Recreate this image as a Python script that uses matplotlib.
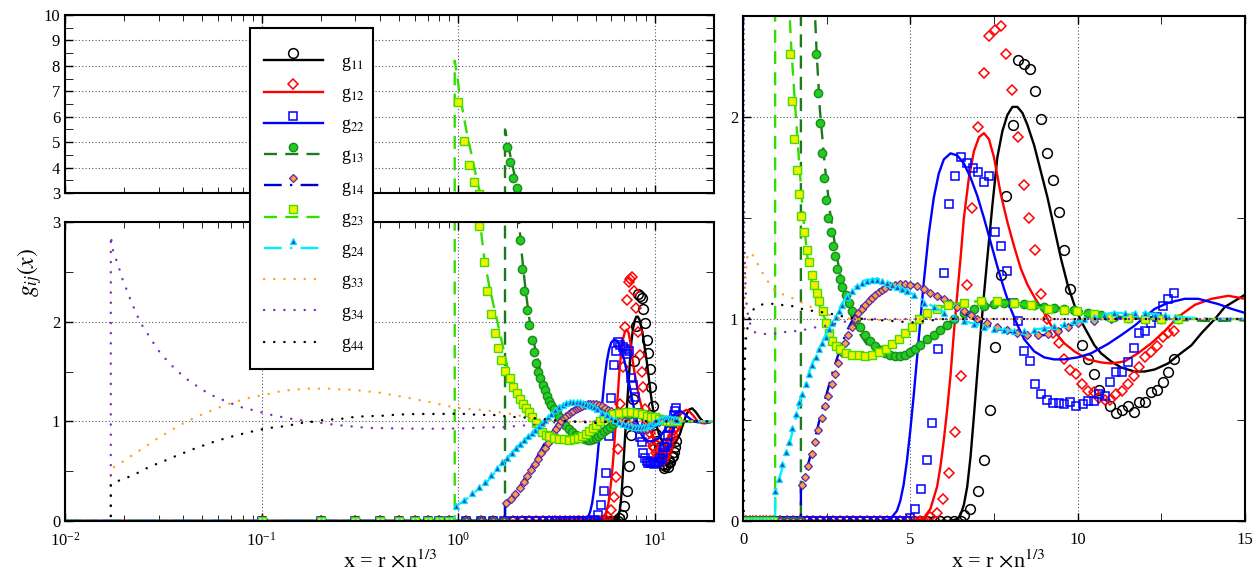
import matplotlib
matplotlib.use("Agg")
import matplotlib.pyplot as plt
from matplotlib.lines import Line2D
from matplotlib.patches import Rectangle
from matplotlib.legend_handler import HandlerBase
from matplotlib.ticker import MultipleLocator, LogLocator, NullFormatter

# ---- pair correlation data ------------------------------------------------
# positions where the simulated g(x) sits on zero before contact
x_zero_row = [0.1, 0.2, 0.3, 0.4, 0.5, 0.6, 0.7, 0.8, 0.9, 1.1, 1.3, 1.5, 1.7,
              1.9, 2.1, 2.3, 2.5, 2.7, 2.9, 3.1, 3.3, 3.5, 3.7, 3.9, 4.1, 4.3,
              4.5, 4.7, 4.9, 5.1, 5.3, 5.5, 5.7, 5.9, 6.1, 6.3, 6.5]

g11_theory_x = [0.01, 6.2, 6.4, 6.5, 6.6, 6.7, 6.8, 6.9, 7.0, 7.1, 7.2, 7.3, 7.45, 7.6,
                7.75, 7.9, 8.05, 8.2, 8.35, 8.5, 8.7, 8.9, 9.1, 9.3, 9.5, 9.7, 9.9,
                10.1, 10.3, 10.5, 10.7, 11.0, 11.3, 11.7, 12.0, 12.3, 12.7, 13.0,
                13.4, 13.7, 14.1, 14.4, 14.7, 15.0, 15.5, 16.2, 17.0, 18.0, 20.0]
g11_theory_y = [0, 0, 0.01, 0.03, 0.08, 0.17, 0.32, 0.52, 0.73, 0.93, 1.12, 1.3, 1.56, 1.8,
                1.93, 2.01, 2.05, 2.05, 2.02, 1.96, 1.86, 1.73, 1.6, 1.45, 1.3, 1.17, 1.07,
                0.99, 0.93, 0.87, 0.83, 0.79, 0.76, 0.74, 0.74, 0.75, 0.78, 0.82,
                0.87, 0.93, 1.0, 1.06, 1.09, 1.12, 1.13, 1.09, 1.03, 0.98, 1.0]
g11_sim_x = [6.59, 6.79, 7.01, 7.2, 7.37, 7.54, 7.72, 7.87, 8.06, 8.21, 8.39, 8.57, 8.74,
             8.9, 9.08, 9.25, 9.43, 9.59, 9.77, 10.12, 10.3, 10.48, 10.65, 10.98, 11.15,
             11.32, 11.49, 11.67, 11.84, 12.01, 12.19, 12.37, 12.54, 12.71, 12.89]
g11_sim_y = [0.03, 0.06, 0.15, 0.30, 0.55, 0.86, 1.22, 1.61, 1.96, 2.28, 2.26, 2.24, 2.13,
             1.99, 1.82, 1.69, 1.53, 1.34, 1.15, 0.87, 0.80, 0.73, 0.65, 0.57, 0.535,
             0.55, 0.57, 0.54, 0.59, 0.59, 0.64, 0.65, 0.69, 0.74, 0.80]

g12_theory_x = [0.01, 5.2, 5.4, 5.6, 5.8, 5.9, 6.0, 6.1, 6.2, 6.3, 6.4, 6.5, 6.6, 6.75,
                6.9, 7.05, 7.2, 7.35, 7.5, 7.7, 7.9, 8.1, 8.3, 8.5, 8.7, 9.0, 9.3, 9.6,
                9.9, 10.3, 10.7, 11.0, 11.4, 11.8, 12.2, 12.6, 13.0, 13.5, 14.0, 14.5,
                15.0, 15.8, 16.5, 17.5, 20.0]
g12_theory_y = [0, 0, 0.015, 0.06, 0.17, 0.27, 0.4, 0.55, 0.72, 0.93, 1.12, 1.3, 1.5, 1.7,
                1.83, 1.9, 1.92, 1.89, 1.8, 1.62, 1.48, 1.36, 1.25, 1.17, 1.11, 1.03, 0.94,
                0.88, 0.84, 0.80, 0.785, 0.78, 0.79, 0.83, 0.88, 0.94, 1.01, 1.07, 1.1,
                1.115, 1.10, 1.05, 1.0, 0.98, 1.0]
g12_sim_x = [5.6, 5.8, 5.97, 6.17, 6.33, 6.5, 6.68, 6.85, 7.03, 7.19, 7.35, 7.52, 7.70,
             7.87, 8.04, 8.21, 8.39, 8.56, 8.74, 8.90, 9.08, 9.25, 9.43, 9.6, 9.77, 9.94,
             10.12, 10.3, 10.48, 10.65, 10.82, 10.98, 11.15, 11.32, 11.49, 11.67, 11.84,
             12.01, 12.19, 12.37, 12.54, 12.71, 12.89]
g12_sim_y = [0.02, 0.04, 0.11, 0.24, 0.44, 0.72, 1.17, 1.55, 1.95, 2.22, 2.40, 2.43, 2.45,
             2.31, 2.135, 1.90, 1.665, 1.50, 1.34, 1.125, 1.0, 0.93, 0.88, 0.80, 0.75, 0.73,
             0.68, 0.645, 0.64, 0.61, 0.60, 0.60, 0.63, 0.645, 0.68, 0.72, 0.76,
             0.81, 0.835, 0.865, 0.91, 0.93, 0.94]

g22_theory_x = [0.01, 4.2, 4.4, 4.6, 4.7, 4.8, 4.9, 5.0, 5.1, 5.25, 5.4, 5.55, 5.7, 5.85,
                6.0, 6.2, 6.4, 6.6, 6.8, 7.0, 7.2, 7.4, 7.6, 7.8, 8.0, 8.2, 8.4, 8.7,
                9.0, 9.3, 9.6, 10.0, 10.4, 10.9, 11.3, 11.7, 12.3, 12.7, 13.2, 13.6,
                14.2, 14.6, 15.0, 15.8, 16.6, 17.5, 20.0]
g22_theory_y = [0, 0, 0.01, 0.05, 0.1, 0.18, 0.3, 0.45, 0.62, 0.9, 1.18, 1.42, 1.6, 1.72,
                1.79, 1.82, 1.81, 1.77, 1.70, 1.61, 1.5, 1.38, 1.26, 1.15, 1.05, 0.97, 0.9,
                0.84, 0.81, 0.80, 0.80, 0.81, 0.83, 0.876, 0.92, 0.967, 1.05, 1.08, 1.10,
                1.10, 1.074, 1.05, 1.03, 1.0, 0.99, 1.0, 1.0]
g22_sim_x = [4.98, 5.15, 5.32, 5.49, 5.66, 5.83, 6.0, 6.17, 6.33, 6.51, 6.68, 6.86, 7.03,
             7.19, 7.36, 7.54, 7.72, 7.89, 8.06, 8.23, 8.39, 8.57, 8.74, 8.90, 9.08, 9.25,
             9.43, 9.59, 9.77, 9.94, 10.15, 10.32, 10.48, 10.65, 10.82, 10.98, 11.15,
             11.32, 11.49, 11.67, 11.84, 12.01, 12.19, 12.37, 12.54, 12.71, 12.89]
g22_sim_y = [0.015, 0.06, 0.16, 0.30, 0.485, 0.85, 1.23, 1.57, 1.71, 1.80, 1.77, 1.75, 1.73,
             1.68, 1.71, 1.43, 1.36, 1.24, 1.08, 0.99, 0.84, 0.79, 0.68, 0.63, 0.60, 0.584,
             0.584, 0.58, 0.59, 0.57, 0.58, 0.596, 0.596, 0.63, 0.62, 0.686, 0.74,
             0.74, 0.785, 0.855, 0.93, 0.94, 0.98, 1.01, 1.063, 1.10, 1.13]

g13_theory_x = [0.01, 1.73, 1.73, 1.80, 1.87, 1.95, 2.03, 2.1, 2.2, 2.3, 2.45, 2.6, 2.8,
                3.0, 3.2, 3.4, 3.7, 4.1, 4.5, 4.9, 5.3, 5.8, 6.3, 7.1, 7.9, 8.8, 9.9,
                11.0, 12.0, 14.0, 17.0, 20.0]
g13_theory_y = [0, 0, 5.5, 4.85, 4.2, 3.6, 3.05, 2.7, 2.32, 2.03, 1.75, 1.53, 1.31,
                1.15, 1.03, 0.95, 0.875, 0.83, 0.815, 0.83, 0.87, 0.93, 1.0, 1.06, 1.08,
                1.07, 1.045, 1.015, 1.0, 0.99, 1.0, 1.0]
g13_sim_x = [1.765, 1.835, 1.892, 1.992, 2.05, 2.10, 2.17, 2.23, 2.29, 2.36, 2.43, 2.48,
             2.55, 2.62, 2.69, 2.75, 2.82, 2.89, 2.97, 3.07, 3.17, 3.27, 3.37, 3.5, 3.65,
             3.8, 3.95, 4.1, 4.25, 4.4, 4.55, 4.7, 4.85, 5.0, 5.15, 5.3, 5.5, 5.7, 5.9,
             6.1, 6.3, 6.6, 6.9, 7.2, 7.5, 7.8, 8.1, 8.4, 8.7, 9.0, 9.3, 9.6, 9.9, 10.3,
             10.7, 11.1, 11.5, 12.0, 12.5, 13.0]
g13_sim_y = [4.79, 4.22, 3.59, 3.2, 2.82, 2.53, 2.31, 2.12, 1.97, 1.82, 1.70, 1.59,
             1.50, 1.43, 1.36, 1.31, 1.25, 1.20, 1.16, 1.12, 1.08, 1.04, 1.0, 0.96, 0.92,
             0.89, 0.865, 0.845, 0.83, 0.82, 0.815, 0.815, 0.82, 0.835, 0.85, 0.87, 0.9,
             0.92, 0.945, 0.97, 1.0, 1.03, 1.05, 1.065, 1.075, 1.08, 1.08, 1.075, 1.07,
             1.06, 1.055, 1.05, 1.045, 1.03, 1.02, 1.01, 1.005, 1.0, 1.0, 1.0]

g14_theory_x = [0.01, 1.73, 1.73, 1.91, 2.11, 2.3, 2.5, 2.7, 2.9, 3.1, 3.45, 3.85, 4.25,
                4.65, 5.1, 5.5, 6.0, 6.4, 7.0, 7.6, 8.4, 9.0, 9.6, 10.1, 11.0, 12.0, 14.0,
                20.0]
g14_theory_y = [0, 0, 0.17, 0.26, 0.38, 0.51, 0.63, 0.75, 0.85, 0.94, 1.05, 1.115, 1.155,
                1.175, 1.17, 1.14, 1.1, 1.05, 0.99, 0.95, 0.92, 0.92, 0.955, 0.99, 1.0, 1.01,
                1.0, 1.0]
g14_sim_x = [1.75, 1.85, 1.95, 2.05, 2.15, 2.25, 2.35, 2.45, 2.55, 2.65, 2.75, 2.85, 2.95,
             3.05, 3.15, 3.25, 3.35, 3.45, 3.55, 3.65, 3.75, 3.85, 3.95, 4.05, 4.15, 4.25,
             4.4, 4.55, 4.7, 4.85, 5.0, 5.2, 5.4, 5.6, 5.8, 6.0, 6.2, 6.4, 6.6, 6.8, 7.0,
             7.3, 7.6, 7.9, 8.2, 8.5, 8.8, 9.1, 9.4, 9.7, 10.0, 10.5, 11.0, 12.0, 13.0]
g14_sim_y = [0.18, 0.22, 0.27, 0.33, 0.39, 0.45, 0.51, 0.57, 0.62, 0.68, 0.73, 0.78, 0.83,
             0.88, 0.92, 0.96, 1.0, 1.03, 1.05, 1.07, 1.09, 1.105, 1.12, 1.135, 1.145, 1.155,
             1.165, 1.17, 1.175, 1.175, 1.17, 1.165, 1.15, 1.13, 1.115, 1.1, 1.08, 1.06,
             1.04, 1.02, 1.0, 0.98, 0.96, 0.945, 0.93, 0.92, 0.92, 0.925, 0.94, 0.96, 0.98,
             0.99, 1.0, 1.0, 1.0]

g23_theory_x = [0.01, 0.96, 0.96, 0.99, 1.01, 1.04, 1.07, 1.11, 1.17, 1.23, 1.29, 1.36,
                1.44, 1.56, 1.68, 1.79, 1.93, 2.09, 2.3, 2.45, 2.6, 2.8, 3.1, 3.5, 3.9,
                4.3, 4.7, 5.1, 5.5, 6.1, 7.1, 8.1, 9.1, 10.0, 11.0, 12.0, 15.0, 20.0]
g23_theory_y = [0, 0, 8.2, 7.6, 7.0, 6.5, 5.95, 5.3, 4.5, 3.7, 3.0, 2.62,
                2.35, 2.05, 1.77, 1.52, 1.30, 1.16, 1.06, 1.0, 0.93, 0.87, 0.83, 0.815,
                0.82, 0.85, 0.9, 0.97, 1.03, 1.07, 1.09, 1.08, 1.05, 1.03, 1.01, 1.0, 1.0,
                1.0]
g23_sim_x = [1.0, 1.073, 1.138, 1.206, 1.28, 1.35, 1.40, 1.47, 1.53, 1.60, 1.66, 1.73,
             1.83, 1.91, 1.98, 2.06, 2.13, 2.20, 2.28, 2.38, 2.48, 2.57, 2.67, 2.78, 2.9,
             3.07, 3.25, 3.47, 3.65, 3.86, 4.05, 4.26, 4.45, 4.65, 4.85, 5.05, 5.25, 5.5,
             5.8, 6.14, 6.6, 7.12, 7.6, 8.11, 8.6, 9.1, 9.6, 9.99, 10.5, 11.0, 11.5, 12.0,
             12.5, 13.0]
g23_sim_y = [6.57, 5.03, 4.11, 3.45, 2.96, 2.60, 2.31, 2.08, 1.89, 1.74, 1.62, 1.51,
             1.43, 1.34, 1.28, 1.22, 1.17, 1.13, 1.09, 1.04, 0.98, 0.93, 0.89, 0.865, 0.85,
             0.83, 0.82, 0.82, 0.815, 0.82, 0.835, 0.85, 0.875, 0.90, 0.93, 0.96, 1.0, 1.03,
             1.05, 1.07, 1.08, 1.09, 1.09, 1.08, 1.07, 1.05, 1.045, 1.04, 1.025, 1.01,
             1.005, 1.0, 1.0, 1.0]

g24_theory_x = [0.01, 0.96, 0.96, 1.1, 1.4, 1.7, 2.0, 2.3, 2.6, 2.9, 3.2, 3.6, 4.0, 4.4,
                4.8, 5.2, 5.8, 6.6, 7.4, 8.1, 9.1, 10.1, 11.0, 12.0, 13.0, 14.0, 20.0]
g24_theory_y = [0, 0, 0.14, 0.22, 0.39, 0.59, 0.75, 0.87, 0.96, 1.06, 1.14, 1.19, 1.2,
                1.18, 1.15, 1.11, 1.05, 0.99, 0.955, 0.94, 0.955, 0.99, 1.03, 1.03, 1.01,
                1.0, 1.0]
g24_sim_x = [0.97, 1.07, 1.17, 1.27, 1.37, 1.47, 1.57, 1.67, 1.77, 1.87, 1.97, 2.07, 2.17,
             2.27, 2.37, 2.47, 2.57, 2.67, 2.77, 2.87, 2.97, 3.1, 3.25, 3.4, 3.55, 3.7,
             3.85, 4.0, 4.15, 4.3, 4.45, 4.6, 4.75, 4.9, 5.1, 5.4, 5.7, 6.0, 6.3, 6.6, 6.9,
             7.2, 7.5, 7.8, 8.1, 8.4, 8.7, 9.0, 9.3, 9.6, 9.9, 10.2, 10.5, 10.8, 11.1,
             11.4, 11.7, 12.0, 12.3, 12.6, 12.9]
g24_sim_y = [0.15, 0.21, 0.28, 0.34, 0.39, 0.46, 0.53, 0.59, 0.63, 0.68, 0.73, 0.77, 0.81,
             0.85, 0.88, 0.91, 0.95, 0.98, 1.01, 1.04, 1.07, 1.11, 1.14, 1.165, 1.18, 1.19,
             1.195, 1.195, 1.19, 1.18, 1.17, 1.16, 1.15, 1.14, 1.12, 1.08, 1.06, 1.03, 1.01,
             0.99, 0.975, 0.96, 0.95, 0.945, 0.94, 0.94, 0.945, 0.955, 0.965, 0.975, 0.99,
             1.0, 1.01, 1.02, 1.03, 1.03, 1.03, 1.03, 1.02, 1.02, 1.01]

g33_theory_x = [0.01, 0.0171, 0.0171, 0.0192, 0.0212, 0.0236, 0.0262, 0.0291, 0.0324,
                0.0361, 0.0403, 0.0451, 0.0505, 0.0566, 0.0636, 0.0716, 0.081, 0.092,
                0.105, 0.119, 0.134, 0.152, 0.171, 0.196, 0.22, 0.25, 0.284, 0.32, 0.367,
                0.415, 0.47, 0.533, 0.61, 0.69, 0.78, 0.88, 1.0, 1.14, 1.39, 1.68, 1.93,
                2.23, 2.57, 2.87, 3.37, 4.0, 6.0, 10.0, 20.0]
g33_theory_y = [0, 0, 0.523, 0.58, 0.64, 0.70, 0.76, 0.82, 0.875,
                0.93, 0.985, 1.03, 1.074, 1.114, 1.154, 1.19, 1.22, 1.248,
                1.268, 1.294, 1.31, 1.32, 1.328, 1.328, 1.328, 1.32, 1.318, 1.308, 1.294,
                1.284, 1.26, 1.244, 1.22, 1.20, 1.177, 1.154, 1.134, 1.125, 1.11, 1.087,
                1.07, 1.038, 1.02, 1.005, 1.0, 0.995, 1.0, 1.0, 1.0]

g34_theory_x = [0.01, 0.0171, 0.0171, 0.0176, 0.0184, 0.0191, 0.0198, 0.0208, 0.0218,
                0.0229, 0.024, 0.0257, 0.0275, 0.0296, 0.032, 0.0349, 0.038, 0.0419,
                0.0464, 0.0516, 0.0576, 0.0643, 0.0722, 0.0818, 0.0922, 0.105, 0.119,
                0.134, 0.152, 0.171, 0.196, 0.22, 0.25, 0.284, 0.32, 0.367, 0.47, 0.61,
                0.79, 1.09, 1.39, 1.68, 2.03, 2.38, 2.87, 3.37, 5.0, 20.0]
g34_theory_y = [0, 0, 2.86, 2.70, 2.60, 2.50, 2.40, 2.30, 2.19,
                2.10, 2.0, 1.91, 1.82, 1.72, 1.64, 1.56, 1.49, 1.42,
                1.36, 1.30, 1.25, 1.21, 1.17, 1.13, 1.11, 1.077, 1.054,
                1.033, 1.017, 1.0, 0.987, 0.973, 0.96, 0.95, 0.94, 0.933, 0.93, 0.926,
                0.926, 0.93, 0.94, 0.94, 0.955, 0.964, 0.98, 1.0, 1.0, 1.0]

g44_theory_x = [0.01, 0.0171, 0.0171, 0.0185, 0.0204, 0.0229, 0.0256, 0.0288, 0.0324,
                0.0365, 0.041, 0.0461, 0.0518, 0.0583, 0.0655, 0.0741, 0.0842, 0.0952,
                0.108, 0.122, 0.139, 0.158, 0.178, 0.20, 0.23, 0.258, 0.294, 0.33, 0.377,
                0.43, 0.48, 0.62, 0.8, 1.02, 1.24, 1.53, 1.83, 2.18, 2.52, 2.87, 3.27,
                3.86, 4.46, 5.05, 6.0, 20.0]
g44_theory_y = [0, 0, 0.37, 0.40, 0.43, 0.473, 0.523, 0.567, 0.607,
                0.651, 0.69, 0.73, 0.765, 0.80, 0.83, 0.859, 0.886, 0.91,
                0.933, 0.943, 0.96, 0.983, 0.993, 1.01, 1.02, 1.027, 1.043, 1.05, 1.054,
                1.057, 1.067, 1.074, 1.074, 1.077, 1.066, 1.063, 1.046, 1.038, 1.03, 1.016,
                1.005, 0.997, 0.99, 0.983, 1.0, 1.0]

labels = ["g$_{11}$", "g$_{12}$", "g$_{22}$", "g$_{13}$", "g$_{14}$",
          "g$_{23}$", "g$_{24}$", "g$_{33}$", "g$_{34}$", "g$_{44}$"]


def with_zero_row(xs, ys, onset):
    """Prepend the simulated points that are still zero before contact."""
    zx = [v for v in x_zero_row if v < onset]
    return zx + list(xs), [0.0] * len(zx) + list(ys)


LW = 1.7
DASH = (0, (5.5, 3.5))
DASHDOT = (0, (7.5, 3.5, 1, 3.5))
DOT = (0, (0.1, 4.2))

series = [
    (g11_theory_x, g11_theory_y, *with_zero_row(g11_sim_x, g11_sim_y, 6.59),
     dict(color="k", ls="-"),
     dict(marker="o", ms=7, mfc="none", mec="k", mew=1.1)),
    (g12_theory_x, g12_theory_y, *with_zero_row(g12_sim_x, g12_sim_y, 5.6),
     dict(color="#ff0000", ls="-"),
     dict(marker="D", ms=5, mfc="none", mec="#ff0000", mew=1.1)),
    (g22_theory_x, g22_theory_y, *with_zero_row(g22_sim_x, g22_sim_y, 4.98),
     dict(color="#0000ff", ls="-"),
     dict(marker="s", ms=6, mfc="none", mec="#0000ff", mew=1.1)),
    (g13_theory_x, g13_theory_y, *with_zero_row(g13_sim_x, g13_sim_y, 1.73),
     dict(color="#1c7a1c", ls=DASH),
     dict(marker="o", ms=6, mfc="#22cc22", mec="#1c8a1c", mew=1.0)),
    (g14_theory_x, g14_theory_y, *with_zero_row(g14_sim_x, g14_sim_y, 1.73),
     dict(color="#0000cc", ls=DASHDOT),
     dict(marker="D", ms=3.8, mfc="#ffa040", mec="#5a2ab0", mew=0.9)),
    (g23_theory_x, g23_theory_y, *with_zero_row(g23_sim_x, g23_sim_y, 0.96),
     dict(color="#33dd00", ls=DASH),
     dict(marker="s", ms=5.5, mfc="#f0f000", mec="#44dd00", mew=1.0)),
    (g24_theory_x, g24_theory_y, *with_zero_row(g24_sim_x, g24_sim_y, 0.96),
     dict(color="#00f0ff", ls=DASHDOT),
     dict(marker="^", ms=4.5, mfc="#3344bb", mec="#00e5ff", mew=0.9)),
    (g33_theory_x, g33_theory_y, None, None,
     dict(color="#ffa020", ls=DOT, dash_capstyle="round"), None),
    (g34_theory_x, g34_theory_y, None, None,
     dict(color="#7b2cbf", ls=DOT, dash_capstyle="round"), None),
    (g44_theory_x, g44_theory_y, None, None,
     dict(color="k", ls=DOT, dash_capstyle="round"), None),
]

plt.rcParams.update({
    "font.family": "serif",
    "font.serif": ["Liberation Serif", "DejaVu Serif"],
    "mathtext.fontset": "stix",
    "axes.linewidth": 1.5,
    "xtick.direction": "in",
    "ytick.direction": "in",
    "xtick.top": True,
    "ytick.right": True,
    "xtick.major.size": 6,
    "ytick.major.size": 6,
    "xtick.minor.size": 4,
    "ytick.minor.size": 6,
    "xtick.major.width": 1.0,
    "ytick.major.width": 1.0,
    "xtick.major.pad": 8,
    "xtick.labelsize": 12,
    "ytick.labelsize": 12,
})

W, H = 1258, 573
fig = plt.figure(figsize=(W / 100, H / 100), dpi=100)
ax_top = fig.add_axes([65 / W, 1 - 193 / H, 649 / W, 178 / H])
ax_bot = fig.add_axes([65 / W, 1 - 521 / H, 649 / W, 299 / H])
ax_lin = fig.add_axes([743 / W, 1 - 521 / H, 502 / W, 505 / H])

grid_kw = dict(ls=(0, (1, 2)), color="0.35", lw=0.8)

for ax in (ax_top, ax_bot):
    ax.set_xscale("log")
    ax.set_xlim(0.01, 20)
    ax.xaxis.set_major_locator(LogLocator(base=10, numticks=10))
    ax.xaxis.set_minor_locator(LogLocator(base=10, subs=range(2, 10), numticks=20))
    ax.xaxis.set_minor_formatter(NullFormatter())
    ax.yaxis.set_major_locator(MultipleLocator(1))
    ax.yaxis.set_minor_locator(MultipleLocator(0.5))
    ax.grid(True, which="major", **grid_kw)

ax_top.set_ylim(3, 10)
ax_top.tick_params(labelbottom=False)
ax_bot.set_ylim(0, 3)

ax_lin.set_xlim(0, 15)
ax_lin.set_ylim(0, 2.5)
ax_lin.xaxis.set_major_locator(MultipleLocator(5))
ax_lin.xaxis.set_minor_locator(MultipleLocator(2.5))
ax_lin.yaxis.set_major_locator(MultipleLocator(1))
ax_lin.yaxis.set_minor_locator(MultipleLocator(0.5))
ax_lin.grid(True, which="major", **grid_kw)
ax_lin.tick_params(which="minor", length=6)

for ax in (ax_top, ax_bot, ax_lin):
    for lx, ly, sx, sy, lstyle, mstyle in series:
        ax.plot(lx, ly, lw=LW, **lstyle)
        if sx is not None:
            ax.plot(sx, sy, ls="none", **mstyle)

fig.text(30 / W, 1 - 272 / H, r"$g_{ij}(x)$", rotation=90, fontsize=17,
         ha="center", va="center")
fig.text(390 / W, 1 - 561 / H, r"x = r $\times$n$^{1/3}$", fontsize=16,
         ha="center", va="center")
fig.text(998 / W, 1 - 561 / H, r"x = r $\times$n$^{1/3}$", fontsize=16,
         ha="center", va="center")


class MarkerAboveLine(HandlerBase):
    """Legend key: full-width line with its marker sitting just above it."""

    def create_artists(self, legend, orig_handle, xdescent, ydescent,
                       width, height, fontsize, trans):
        y = height / 2 - ydescent
        line = Line2D([-xdescent, width - xdescent], [y, y])
        line.update_from(orig_handle)
        line.set_marker("None")
        line.set_transform(trans)
        artists = [line]
        if orig_handle.get_marker() not in (None, "None", "", " "):
            mk = Line2D([width / 2 - xdescent], [y + 0.4 * fontsize])
            mk.update_from(orig_handle)
            mk.set_linestyle("None")
            mk.set_transform(trans)
            artists.append(mk)
        return artists


handles = []
for _, _, _, _, lstyle, mstyle in series:
    h = Line2D([], [], lw=LW, **lstyle)
    if mstyle is not None:
        h.set_marker(mstyle["marker"])
        h.set_markersize(mstyle["ms"])
        h.set_markerfacecolor(mstyle["mfc"])
        h.set_markeredgecolor(mstyle["mec"])
        h.set_markeredgewidth(mstyle["mew"])
    handles.append(h)

# legend box straddles both log panels
fig.add_artist(Rectangle((250 / W, 1 - 369 / H), 123 / W, 341 / H,
                         transform=fig.transFigure, facecolor="white",
                         edgecolor="k", lw=1.5, zorder=4))
fig.legend(handles, labels, loc="upper left",
           bbox_to_anchor=(250 / W, 1 - 40 / H), borderaxespad=0,
           handler_map={Line2D: MarkerAboveLine()},
           fontsize=13, handlelength=3.3, handletextpad=1.0,
           borderpad=0.75, labelspacing=0.68, frameon=False)

fig.savefig("out.png", dpi=100)
